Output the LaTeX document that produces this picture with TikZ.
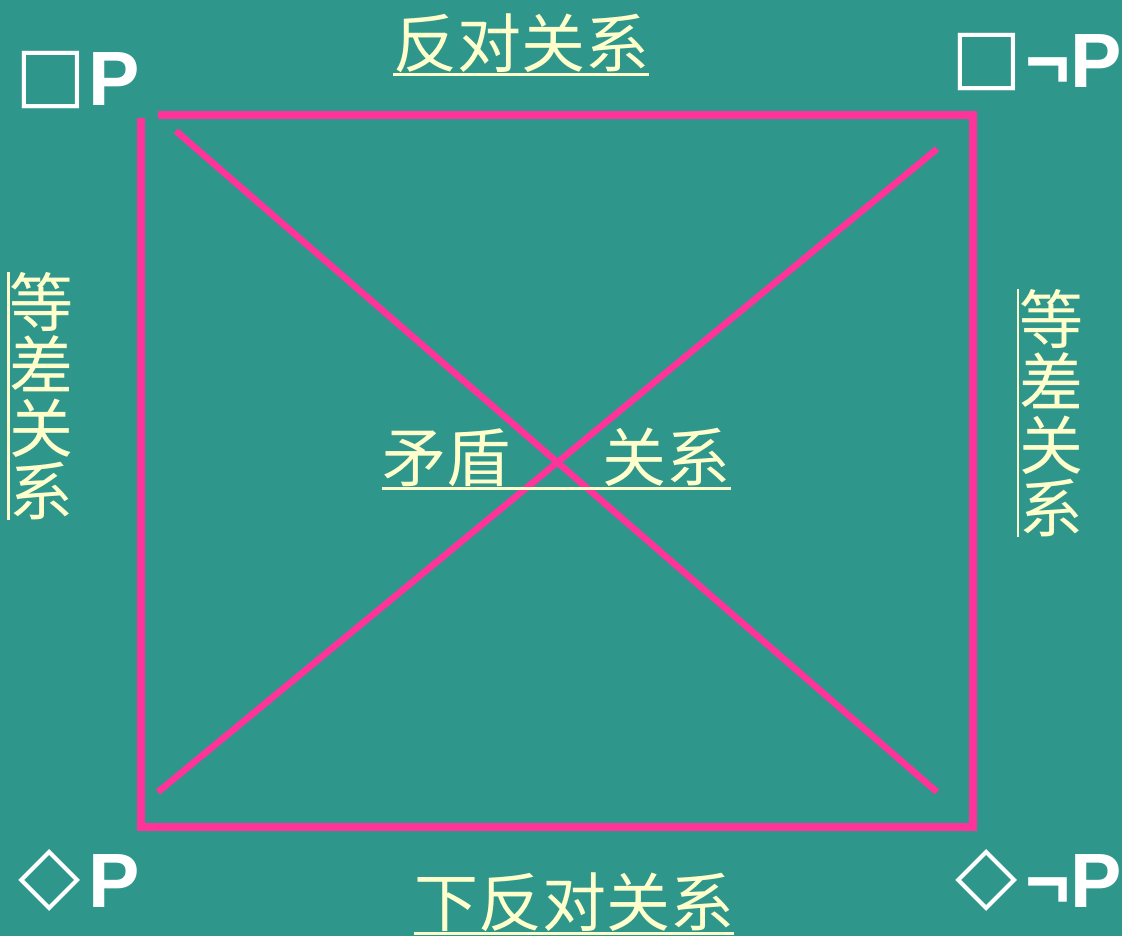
\documentclass[tikz,border=0pt]{standalone}
\usepackage{fontspec}
\setmainfont{Liberation Sans}
\newfontfamily\cjk{Noto Sans CJK SC}
\newfontfamily\symf{DejaVu Sans}
\newcommand\boxsym{\raisebox{6.5pt}{\symf\fontsize{75}{75}\selectfont\mdseries □}}
\newcommand\diasym{\raisebox{6pt}{\symf\fontsize{81}{81}\selectfont\mdseries ◇}}
\definecolor{bg}{RGB}{47,150,140}
\definecolor{pinkline}{RGB}{255,51,153}
\definecolor{cream}{RGB}{255,255,204}
\begin{document}
\begin{tikzpicture}[x=1pt,y=-1pt,
  rel/.style={font=\cjk\fontsize{64}{63}\selectfont, text=cream, inner sep=0pt},
  modal/.style={text=white, inner sep=0pt, anchor=base east, font=\fontsize{77}{77}\selectfont\bfseries},
  uline/.style={cream, line width=2.5pt},
  frame/.style={pinkline, line width=8pt, line join=miter},
  diag/.style={pinkline, line width=6.5pt}]
\fill[bg] (0,0) rectangle (1122,936);
\useasboundingbox (0,0) rectangle (1122,936);

% frame
\coordinate (f1) at (158,115);
\coordinate (f2) at (973,115);
\coordinate (f3) at (973,827);
\coordinate (f4) at (140.5,827);
\coordinate (f5) at (140.5,118);
\draw[frame] (f1) -- (f2) -- (f3) -- (f4) -- (f5);

% diagonals
\coordinate (d1s) at (176,131);
\coordinate (d1e) at (937,792);
\coordinate (d2s) at (158,792);
\coordinate (d2e) at (937,149);
\draw[diag] (d1s) -- (d1e);
\draw[diag] (d2s) -- (d2e);

% relation labels
\node[rel] (top) at (521,43) {反对关系};
\draw[uline] ([yshift=-2pt]top.south west) -- ([yshift=-2pt]top.south east);
\node[rel] (bot) at (574,902) {下反对关系};
\draw[uline] ([yshift=-2pt]bot.south west) -- ([yshift=-2pt]bot.south east);
\node[rel] (mid) at (556.5,457) {矛盾\hspace{93pt}关系};
\draw[uline] ([yshift=-2pt]mid.south west) -- ([yshift=-2pt]mid.south east);
\node[rel, align=center] (left) at (41.5,396) {等\\差\\关\\系};
\draw[uline] ([xshift=-1pt]left.north west) -- ([xshift=-1pt]left.south west);
\node[rel, align=center] (right) at (1051,413) {等\\差\\关\\系};
\draw[uline] ([xshift=-1pt]right.north west) -- ([xshift=-1pt]right.south west);

% modal labels
\node[modal] (nP) at (140,106) {\boxsym\hspace{2pt}P};
\node[modal] (nnP) at (1122,88) {\boxsym\hspace{3pt}¬P};
\node[modal] (pP) at (140,907) {\diasym\hspace{8pt}P};
\node[modal] (pnP) at (1122,907) {\diasym\hspace{8pt}¬P};
\end{tikzpicture}
\end{document}
